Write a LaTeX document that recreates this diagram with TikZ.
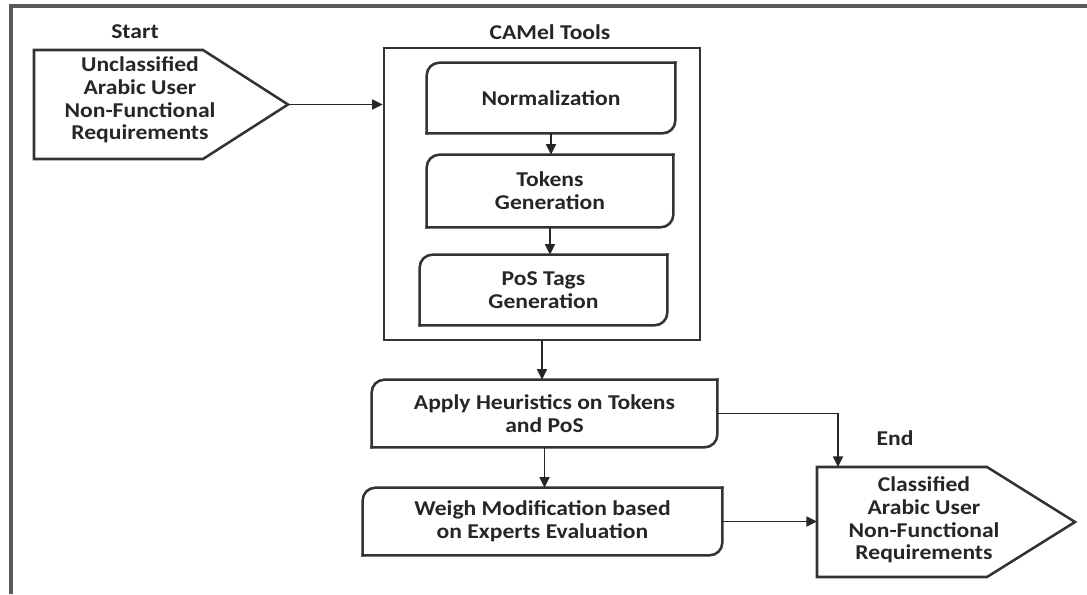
\documentclass[tikz,border=0pt]{standalone}
\usepackage{fontspec}
\setmainfont{Carlito}[FakeStretch=1.12]
\usetikzlibrary{arrows.meta,calc}

\tikzset{
  stage/.style={inner sep=0pt},
  outline/.style={line width=1.8pt, draw=black!80, line cap=rect},
  link/.style={line width=1.3pt, draw=black!85, -{Triangle[length=7.5pt,width=7pt]}},
  frame/.style={line width=2.2pt, draw=black!65}
}

\begin{document}
\begin{tikzpicture}[x=0.025cm,y=-0.025cm,
    every node/.style={font=\bfseries\fontsize{15}{16.2}\selectfont, align=center, text=black!85}]
    \useasboundingbox (0,0) rectangle (1087,594);
    \draw[frame] (11,594) -- (11,6) -- (1087,6);

    % start and end
    \node (startlbl) at (135,32) {Start};
    \node (start) at (140,100) {Unclassified\\Arabic User\\Non-Functional\\Requirements};
    \draw[outline] (start.center) ++(-106,-50) -- ++(169,0) -- ++(85,54.5) coordinate (starttip)
        -- ++(-85,54.5) -- ++(-169,0) -- cycle;
    \node (endlbl) at (895,438) {End};
    \node (cls) at (924,520) {Classified\\Arabic User\\Non-Functional\\Requirements};
    \draw[outline] (cls.center) ++(-107,-53) coordinate (clsnw) -- ++(170,0) -- ++(88,55)
        -- ++(-88,55) -- ++(-170,0) -- cycle;

    % CAMel tools
    \node (camellbl) at (550,32) {CAMel Tools};
    \node[outline, draw, minimum width=7.9cm, minimum height=7.3cm] (camel) at (542,194) {};
    \node[stage, minimum width=6.2cm, minimum height=1.75cm] (norm) at (551,98) {Normalization};
    \node[stage, minimum width=6.15cm, minimum height=1.8cm] (tok) at (550,191) {Tokens\\Generation};
    \node[stage, minimum width=6.175cm, minimum height=1.75cm] (pos) at (543.5,290) {PoS Tags\\Generation};

    % heuristics
    \node[stage, minimum width=8.625cm, minimum height=1.675cm] (heur) at (544.5,413.5) {Apply Heuristics on Tokens\\and PoS};
    \node[stage, minimum width=8.975cm, minimum height=1.675cm] (weigh) at (542.5,521.5) {Weigh Modification based\\on Experts Evaluation};

    \foreach \n in {norm,tok,pos,heur,weigh}
        {\draw[outline, rounded corners=9pt] (\n.north east) -- (\n.south east) -- (\n.south west);
         \draw[outline, rounded corners=9pt] (\n.south west) -- (\n.north west) -- (\n.north east);
        }

    \draw[link] (starttip) -- (starttip -| camel.west);
    \draw[link] (norm.south) -- (norm.south |- tok.north);
    \draw[link] (tok.south) -- (tok.south |- pos.north);
    \draw[link] (camel.south) -- (camel.south |- heur.north);
    \draw[link] (heur.south) -- (heur.south |- weigh.north);
    \draw[link] (heur.east) -| ([xshift=0.525cm]clsnw);
    \draw[link] (weigh.east) -- (weigh.east -| clsnw);
\end{tikzpicture}
\end{document}
